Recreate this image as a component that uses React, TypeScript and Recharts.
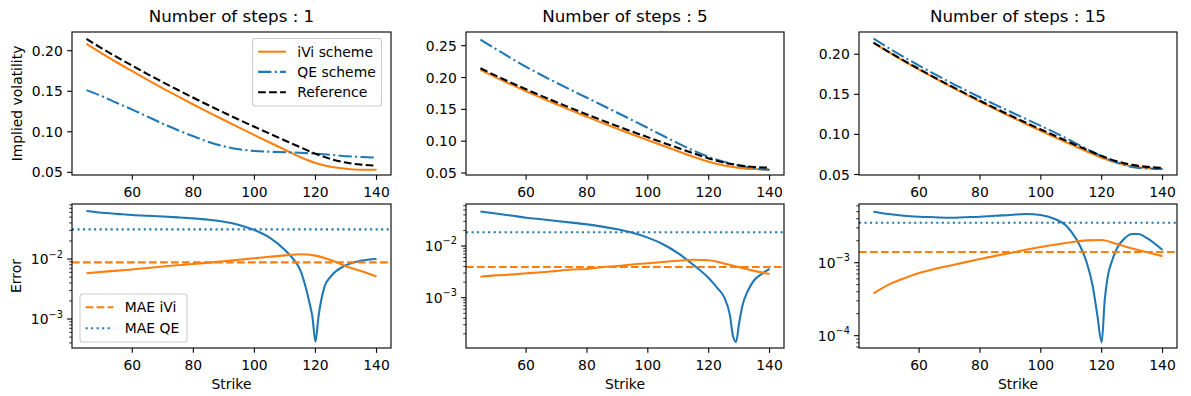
import React from 'react';
import { LineChart, Line, XAxis, YAxis, ReferenceLine } from 'recharts';

const BLUE = '#1f77b4';
const ORANGE = '#ff7f0e';
const FONT = '"DejaVu Sans", sans-serif';

// strike grid shared by the implied-vol curves
const STRIKES = [45, 50, 55, 60, 65, 70, 75, 80, 85, 90, 95, 100, 105, 110, 115, 120, 125, 130, 135, 140];
const REF_VOL = [0.2145, 0.2030, 0.1920, 0.1815, 0.1712, 0.1612, 0.1515, 0.1420, 0.1327, 0.1237, 0.1148, 0.1062, 0.0977, 0.0893, 0.0810, 0.0730, 0.0665, 0.0620, 0.0595, 0.0583];

const IVI_1 = [0.2085, 0.1968, 0.1855, 0.1748, 0.1640, 0.1536, 0.1436, 0.1337, 0.1240, 0.1145, 0.1051, 0.0959, 0.0868, 0.0778, 0.0689, 0.0616, 0.0569, 0.0544, 0.0532, 0.0532];
const QE_1 = [0.1514, 0.1440, 0.1355, 0.1274, 0.1187, 0.1100, 0.1020, 0.0944, 0.0875, 0.0820, 0.0784, 0.0764, 0.0754, 0.0748, 0.0742, 0.0730, 0.0716, 0.0699, 0.0689, 0.0683];
const IVI_5 = [0.2120, 0.2003, 0.1892, 0.1785, 0.1681, 0.1579, 0.1480, 0.1384, 0.1288, 0.1196, 0.1104, 0.1016, 0.0928, 0.0841, 0.0756, 0.0677, 0.0619, 0.0581, 0.0562, 0.0554];
const QE_5 = [0.2595, 0.2450, 0.2305, 0.2168, 0.2040, 0.1917, 0.1798, 0.1682, 0.1564, 0.1447, 0.1328, 0.1207, 0.1085, 0.0965, 0.0853, 0.0754, 0.0676, 0.0617, 0.0573, 0.0547];
const IVI_15 = [0.2141, 0.2025, 0.1914, 0.1807, 0.1704, 0.1603, 0.1505, 0.1409, 0.1315, 0.1223, 0.1133, 0.1045, 0.0959, 0.0874, 0.0790, 0.0710, 0.0647, 0.0604, 0.0581, 0.0571];
const QE_15 = [0.2195, 0.2077, 0.1964, 0.1858, 0.1754, 0.1653, 0.1557, 0.1463, 0.1371, 0.1282, 0.1195, 0.1107, 0.1016, 0.0920, 0.0820, 0.0729, 0.0649, 0.0595, 0.0574, 0.0568];

// absolute errors (log panels)
const ERR_IVI_1 = [0.0058, 0.0061, 0.0064, 0.0067, 0.0071, 0.0075, 0.0079, 0.0083, 0.0087, 0.0092, 0.0097, 0.0103, 0.0109, 0.0115, 0.0120, 0.0114, 0.0096, 0.0076, 0.0063, 0.0051];
const ERR_IVI_5 = [0.00255, 0.0027, 0.0028, 0.00296, 0.0031, 0.0033, 0.0035, 0.0036, 0.0039, 0.0041, 0.0044, 0.00462, 0.0049, 0.0052, 0.0054, 0.0053, 0.0046, 0.0039, 0.0033, 0.00287];
const ERR_IVI_15 = [0.00038, 0.00050, 0.00061, 0.00072, 0.00082, 0.00091, 0.00101, 0.00112, 0.00124, 0.00136, 0.00150, 0.00164, 0.00178, 0.00191, 0.00202, 0.00205, 0.00180, 0.00157, 0.00139, 0.00123];

const ERR_QE_K_1 = [45, 50, 55, 60, 65, 70, 75, 80, 85, 90, 95, 100, 105, 110, 113, 115, 117, 118, 119, 120, 121, 122, 123, 125, 130, 135, 140];
const ERR_QE_1 = [0.0631, 0.0590, 0.0565, 0.0541, 0.0525, 0.0512, 0.0495, 0.0476, 0.0452, 0.0419, 0.0370, 0.0304, 0.0227, 0.0141, 0.0096, 0.0066, 0.0031, 0.0019, 0.0011, 0.00042, 0.0011, 0.0022, 0.0035, 0.0051, 0.0079, 0.0094, 0.0100];
const ERR_QE_K_5 = [45, 50, 55, 60, 65, 70, 75, 80, 85, 90, 95, 100, 105, 110, 115, 120, 123, 125, 127, 128, 129, 130, 131, 133, 135, 137.5, 140];
const ERR_QE_5 = [0.0463, 0.0425, 0.0388, 0.0353, 0.0328, 0.0305, 0.0283, 0.0262, 0.0237, 0.0210, 0.0180, 0.0145, 0.0108, 0.0072, 0.0043, 0.0024, 0.0015, 0.00105, 0.00045, 0.00018, 0.00014, 0.00032, 0.00067, 0.00141, 0.0022, 0.0029, 0.0036];
const ERR_QE_K_15 = [45, 50, 55, 60, 65, 70, 75, 80, 85, 90, 95, 100, 105, 108, 110, 113, 115, 117, 118.5, 120, 121, 122, 123.5, 125, 127.5, 130, 132, 135, 140];
const ERR_QE_15 = [0.0050, 0.00465, 0.0044, 0.00427, 0.0042, 0.00413, 0.0042, 0.00427, 0.0044, 0.0045, 0.00465, 0.0045, 0.0039, 0.0033, 0.00266, 0.00166, 0.00103, 0.00049, 0.00020, 0.000081, 0.00031, 0.00065, 0.00109, 0.00157, 0.00215, 0.00247, 0.00247, 0.00215, 0.00149];

const MAE_IVI = [0.0088, 0.00393, 0.0014];
const MAE_QE = [0.0312, 0.0184, 0.00353];

const STEPS = [1, 5, 15];
const X_TICKS = [60, 80, 100, 120, 140];
const X_DOMAIN = [40.25, 144.75];
const TOP_DOMAINS = [[0.0467, 0.2231], [0.0469, 0.2715], [0.0494, 0.2277]];
const TOP_TICKS = [[0.05, 0.1, 0.15, 0.2], [0.05, 0.1, 0.15, 0.2, 0.25], [0.05, 0.1, 0.15, 0.2]];
const ERR_DOMAINS = [[3.29e-4, 0.0826], [1.064e-4, 0.0649], [6.78e-5, 6.37e-3]];
const ERR_MAJORS = [[1e-3, 1e-2], [1e-3, 1e-2], [1e-4, 1e-3]];

// layout (px)
const COL_LEFT = [72, 466, 859];
const COL_W = [319, 318, 318];
const TOP_Y = 32, TOP_H = 143;
const BOT_Y = 204, BOT_H = 144;
const ML = 70, MT = 10, MR = 10, MB = 30;

const LW = 2.08;
const DASH = '7.7 3.3';
const DOT = '2.08 3.44';
const DASHDOT = '13.3 3.3 2.08 3.3';

const topRows = (ivi: number[], qe: number[]) =>
  STRIKES.map((k, i) => ({ k, ref: REF_VOL[i], ivi: ivi[i], qe: qe[i] }));
const pairs = (ks: number[], vs: number[]) => ks.map((k, i) => ({ k, v: vs[i] }));

const TOP_DATA = [topRows(IVI_1, QE_1), topRows(IVI_5, QE_5), topRows(IVI_15, QE_15)];
const ERR_IVI = [ERR_IVI_1, ERR_IVI_5, ERR_IVI_15].map(v => pairs(STRIKES, v));
const ERR_QE = [pairs(ERR_QE_K_1, ERR_QE_1), pairs(ERR_QE_K_5, ERR_QE_5), pairs(ERR_QE_K_15, ERR_QE_15)];

function logMinors(lo: number, hi: number) {
  const out: number[] = [];
  for (let e = -6; e <= 0; e++) for (let m = 2; m <= 9; m++) {
    const v = m * Math.pow(10, e);
    if (v >= lo && v <= hi) out.push(v);
  }
  return out;
}

function Panel({ left, top, width, height, yDomain, yTicks, majors, log, children }: any) {
  const bottom = MT + height;
  const xTick = (p: any) => (
    <g>
      <line x1={p.x} x2={p.x} y1={bottom} y2={bottom + 4.86} stroke="#000" strokeWidth={1.11} />
      <text x={p.x} y={bottom + 22} textAnchor="middle" fontSize={13.9} fontFamily={FONT} fill="#000">{p.payload.value}</text>
    </g>
  );
  const yTick = (p: any) => {
    const v = p.payload.value;
    if (!log) return (
      <g>
        <line x1={ML - 4.86} x2={ML} y1={p.y} y2={p.y} stroke="#000" strokeWidth={1.11} />
        <text x={ML - 9.2} y={p.y + 5} textAnchor="end" fontSize={13.9} fontFamily={FONT} fill="#000">{v.toFixed(2)}</text>
      </g>
    );
    const isMajor = majors.some((m: number) => Math.abs(m - v) < m * 1e-6);
    if (!isMajor) return <line x1={ML - 2.78} x2={ML} y1={p.y} y2={p.y} stroke="#000" strokeWidth={0.83} />;
    const e = Math.round(Math.log10(v));
    return (
      <g>
        <line x1={ML - 4.86} x2={ML} y1={p.y} y2={p.y} stroke="#000" strokeWidth={1.11} />
        <text x={ML - 9.2} y={p.y + 5} textAnchor="end" fontSize={13.9} fontFamily={FONT} fill="#000">
          10<tspan dy={-6.5} fontSize={9.7}>{'\u2212' + (-e)}</tspan>
        </text>
      </g>
    );
  };
  return (
    <div style={{ position: 'absolute', left: left - ML, top: top - MT }}>
      <LineChart width={width + ML + MR} height={height + MT + MB} margin={{ top: MT, right: MR, bottom: 0, left: 0 }}>
        <XAxis dataKey="k" type="number" domain={X_DOMAIN} ticks={X_TICKS} allowDataOverflow interval={0}
          axisLine={false} tickLine={false} tick={xTick} height={MB} />
        <YAxis type="number" scale={log ? 'log' : 'linear'} domain={yDomain} ticks={yTicks} allowDataOverflow interval={0}
          axisLine={false} tickLine={false} tick={yTick} width={ML} />
        {children}
      </LineChart>
    </div>
  );
}

function LegendBox({ x, y, w, h, rows }: any) {
  return (
    <g>
      <rect x={x} y={y} width={w} height={h} rx={2.8} fill="#fff" fillOpacity={0.8} stroke="#cccccc" strokeWidth={1.1} />
      {rows.map((r: any, i: number) => (
        <g key={i}>
          <line x1={x + 5.6} x2={x + 33.4} y1={r.y} y2={r.y} stroke={r.color} strokeWidth={LW} strokeDasharray={r.dash} />
          <text x={x + 44.8} y={r.y + 5} fontSize={13.9} fontFamily={FONT} fill="#000">{r.label}</text>
        </g>
      ))}
    </g>
  );
}

export default function App() {
  return (
    <div style={{ position: 'fixed', left: 0, top: 0, width: 1191, height: 396, background: '#fff', overflow: 'hidden' }}>
      {STEPS.map((s, i) => (
        <React.Fragment key={s}>
          <Panel left={COL_LEFT[i]} top={TOP_Y} width={COL_W[i]} height={TOP_H} yDomain={TOP_DOMAINS[i]} yTicks={TOP_TICKS[i]}>
            <Line data={TOP_DATA[i]} dataKey="ivi" type="monotone" stroke={ORANGE} strokeWidth={LW} dot={false} activeDot={false} isAnimationActive={false} />
            <Line data={TOP_DATA[i]} dataKey="qe" type="monotone" stroke={BLUE} strokeWidth={LW} strokeDasharray={DASHDOT} dot={false} activeDot={false} isAnimationActive={false} />
            <Line data={TOP_DATA[i]} dataKey="ref" type="monotone" stroke="#000" strokeWidth={LW} strokeDasharray={DASH} dot={false} activeDot={false} isAnimationActive={false} />
          </Panel>
          <Panel left={COL_LEFT[i]} top={BOT_Y} width={COL_W[i]} height={BOT_H} yDomain={ERR_DOMAINS[i]} log majors={ERR_MAJORS[i]}
            yTicks={[...ERR_MAJORS[i], ...logMinors(ERR_DOMAINS[i][0], ERR_DOMAINS[i][1])].sort((a, b) => a - b)}>
            <Line data={ERR_QE[i]} dataKey="v" type="monotone" stroke={BLUE} strokeWidth={LW} dot={false} activeDot={false} isAnimationActive={false} />
            <Line data={ERR_IVI[i]} dataKey="v" type="monotone" stroke={ORANGE} strokeWidth={LW} dot={false} activeDot={false} isAnimationActive={false} />
            <ReferenceLine y={MAE_IVI[i]} stroke={ORANGE} strokeWidth={LW} strokeDasharray={DASH} />
            <ReferenceLine y={MAE_QE[i]} stroke={BLUE} strokeWidth={LW} strokeDasharray={DOT} />
          </Panel>
        </React.Fragment>
      ))}
      <svg width={1191} height={396} style={{ position: 'absolute', left: 0, top: 0, pointerEvents: 'none' }}>
        {STEPS.map((s, i) => (
          <g key={s}>
            <rect x={COL_LEFT[i]} y={TOP_Y} width={COL_W[i]} height={TOP_H} fill="none" stroke="#000" strokeWidth={1.11} />
            <rect x={COL_LEFT[i]} y={BOT_Y} width={COL_W[i]} height={BOT_H} fill="none" stroke="#000" strokeWidth={1.11} />
            <text x={COL_LEFT[i] + COL_W[i] / 2} y={22} textAnchor="middle" fontSize={16.7} fontFamily={FONT} fill="#000">
              {`Number of steps : ${s}`}
            </text>
            <text x={COL_LEFT[i] + COL_W[i] / 2} y={389} textAnchor="middle" fontSize={13.9} fontFamily={FONT} fill="#000">Strike</text>
          </g>
        ))}
        <text transform={`translate(21.5, ${TOP_Y + TOP_H / 2}) rotate(-90)`} textAnchor="middle" fontSize={13.9} fontFamily={FONT} fill="#000">Implied volatility</text>
        <text transform={`translate(20.7, ${BOT_Y + BOT_H / 2}) rotate(-90)`} textAnchor="middle" fontSize={13.9} fontFamily={FONT} fill="#000">Error</text>
        <LegendBox x={252.5} y={38.5} w={129} h={67.5} rows={[
          { y: 51.7, color: ORANGE, label: 'iVi scheme' },
          { y: 71.9, color: BLUE, dash: DASHDOT, label: 'QE scheme' },
          { y: 92.2, color: '#000', dash: DASH, label: 'Reference' },
        ]} />
        <LegendBox x={80} y={294} w={107} h={48} rows={[
          { y: 307.3, color: ORANGE, dash: DASH, label: 'MAE iVi' },
          { y: 328.3, color: BLUE, dash: DOT, label: 'MAE QE' },
        ]} />
      </svg>
    </div>
  );
}
